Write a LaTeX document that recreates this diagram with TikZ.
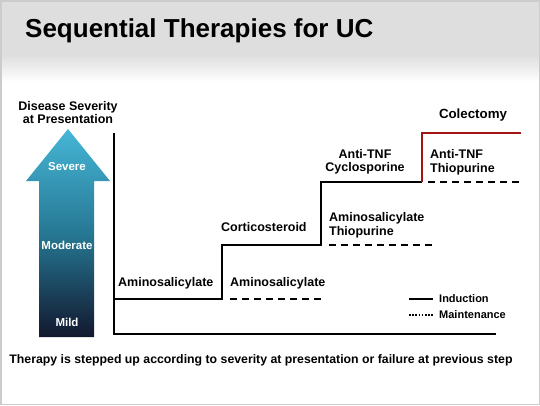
\documentclass[tikz,border=0pt]{standalone}
\usepackage{fontspec}
\setmainfont{Liberation Sans}
\usetikzlibrary{positioning}

\definecolor{arrowtop}{RGB}{70,182,214}
\definecolor{arrowmid}{RGB}{38,120,148}
\definecolor{arrowbot}{RGB}{18,24,46}
\definecolor{colred}{RGB}{160,20,20}
\definecolor{bandgray}{RGB}{222,222,222}

\begin{document}
\begin{tikzpicture}[x=1pt, y=-1pt,
    steplabel/.style={font=\bfseries\fontsize{12.5}{13.5}\selectfont, inner sep=0pt},
    sevlabel/.style={font=\bfseries\fontsize{11.5}{13}\selectfont, text=white, inner sep=0pt},
    legendlabel/.style={font=\bfseries\fontsize{11}{13}\selectfont, inner sep=0pt, anchor=west},
    induction/.style={line width=1.6pt},
    maintenance/.style={line width=1.6pt, dash pattern=on 7pt off 5pt}]
  \useasboundingbox (0,0) rectangle (540,405);

  % Slide background
  \fill[white] (0,0) rectangle (540,405);
  \fill[bandgray] (0,0) rectangle (540,55);
  \shade[top color=bandgray, bottom color=white] (0,55) rectangle (540,82);
  \draw[gray!40, line width=1.5pt] (0.75,0.75) rectangle (539.25,404.25);

  % Title
  \node[font=\bfseries\fontsize{26}{30}\selectfont, anchor=west, inner sep=0pt] (title) at (25,31) {Sequential Therapies for UC};

  % Severity arrow
  \shade[top color=arrowtop, bottom color=arrowbot, middle color=arrowmid]
    (68,129) -- (110,181) -- (94,181) -- (94,337) -- (39,337) -- (39,181) -- (26,181) -- cycle;
  \node[font=\bfseries\fontsize{12.5}{13.5}\selectfont, align=center, inner sep=0pt] (severity) at (68,112.5) {Disease Severity\\at Presentation};
  \node[sevlabel] (severe) at (67,167) {Severe};
  \node[sevlabel] (moderate) at (67,245) {Moderate};
  \node[sevlabel] (mild) at (67,322) {Mild};

  % Axes
  \coordinate (axtop) at (114,133);
  \coordinate (origin) at (114,334);
  \coordinate (axend) at (496,334);
  \draw[line width=1.6pt] (axtop) -- (origin) -- (axend);

  % Induction steps
  \coordinate (s1) at (114,299);
  \coordinate (s2) at (222,299);
  \coordinate (s3) at (222,245);
  \coordinate (s4) at (321,245);
  \coordinate (s5) at (321,182);
  \coordinate (s6) at (422,182);
  \coordinate (s7) at (422,133);
  \coordinate (s8) at (521,133);
  \draw[induction] (s1) -- (s2) -- (s3) -- (s4) -- (s5) -- (s6);
  \draw[line width=1.6pt, colred] (s6) -- (s7) -- (s8);

  % Maintenance steps
  \coordinate (m1a) at (230,299);
  \coordinate (m1b) at (321,299);
  \coordinate (m2a) at (329,245);
  \coordinate (m2b) at (436,245);
  \coordinate (m3a) at (428,182);
  \coordinate (m3b) at (519,182);
  \draw[maintenance] (m1a) -- (m1b);
  \draw[maintenance] (m2a) -- (m2b);
  \draw[maintenance] (m3a) -- (m3b);

  % Step labels
  \node[steplabel, anchor=west] (ami1) at (118,283) {Aminosalicylate};
  \node[steplabel, anchor=west] (ami2) at (230,283) {Aminosalicylate};
  \node[steplabel, anchor=west] (cort) at (221,227) {Corticosteroid};
  \node[steplabel, anchor=west, align=left] (amithio) at (329,225.5) {Aminosalicylate\\Thiopurine};
  \node[steplabel, align=center] (tnfcyc) at (365,162) {Anti-TNF\\Cyclosporine};
  \node[steplabel, anchor=west, align=left] (tnfthio) at (430,162.5) {Anti-TNF\\Thiopurine};
  \node[font=\bfseries\fontsize{13.3}{15}\selectfont, inner sep=0pt] (colect) at (473,115) {Colectomy};

  % Legend
  \coordinate (li1) at (409,299);
  \coordinate (li2) at (433,299);
  \coordinate (lm1) at (409,315);
  \coordinate (lm2) at (433,315);
  \draw[line width=1.6pt] (li1) -- (li2);
  \draw[line width=1.6pt, dash pattern=on 1.6pt off 1.6pt] (lm1) -- (lm2);
  \node[legendlabel] (ind) at (439,299) {Induction};
  \node[legendlabel] (maint) at (439,315) {Maintenance};

  % Footnote
  \node[font=\bfseries\fontsize{12.3}{14}\selectfont, inner sep=0pt] (foot) at (261,360) {Therapy is stepped up according to severity at presentation or failure at previous step};
\end{tikzpicture}
\end{document}
